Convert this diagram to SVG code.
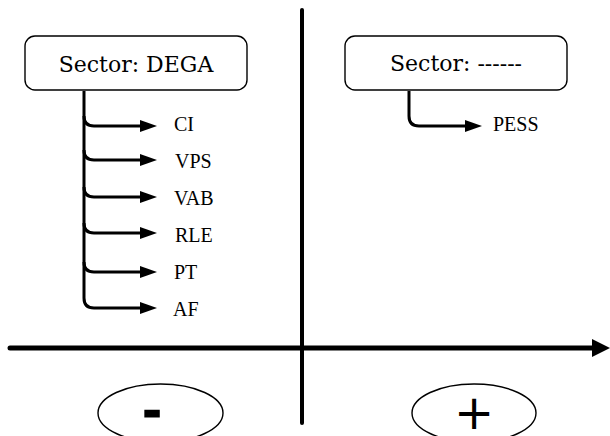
<svg xmlns="http://www.w3.org/2000/svg" width="610" height="436" viewBox="0 0 610 436">
<style>
.box{fill:#fff;stroke:#000;stroke-width:1.4}
.boxtxt{font-family:"DejaVu Serif",serif;font-size:22px;fill:#000;text-anchor:middle}
.lbl{font-family:"Liberation Serif","Times New Roman",serif;font-size:20px;fill:#000}
.con{fill:none;stroke:#000;stroke-width:3}
.axis{fill:none;stroke:#000;stroke-linecap:round}
.ell{fill:#fff;stroke:#000;stroke-width:1.4}
</style>
<defs>
<marker id="ah" markerUnits="userSpaceOnUse" markerWidth="18" markerHeight="13" refX="1" refY="6.5" orient="auto">
<path d="M0,0.5 L17,6.5 L0,12.5 z" fill="#000"/>
</marker>
</defs>
<g id="axes">
<line class="axis" x1="302" y1="10" x2="302" y2="423" stroke-width="4"/>
<line class="axis" x1="10" y1="348" x2="595" y2="348" stroke-width="5"/>
<polygon points="592,339 610,348 592,357" fill="#000"/>
</g>
<g id="connectors">
<path class="con" d="M84,91 L84,298 Q84,308 94,308 L141,308" marker-end="url(#ah)"/>
<path class="con" d="M84,116 Q84,126 94,126 L141,126" marker-end="url(#ah)"/>
<path class="con" d="M84,150 Q84,160 94,160 L141,160" marker-end="url(#ah)"/>
<path class="con" d="M84,187 Q84,197 94,197 L141,197" marker-end="url(#ah)"/>
<path class="con" d="M84,223 Q84,233 94,233 L141,233" marker-end="url(#ah)"/>
<path class="con" d="M84,262 Q84,272 94,272 L141,272" marker-end="url(#ah)"/>
<path class="con" d="M409,91 L409,116 Q409,126 419,126 L466,126" marker-end="url(#ah)"/>
</g>
<g id="node-dega">
<rect class="box" x="25" y="36" width="222" height="54" rx="10"/>
<text class="boxtxt" x="136" y="72">Sector: DEGA</text>
</g>
<g id="node-sector2">
<rect class="box" x="345" y="36" width="222" height="54" rx="10"/>
<text class="boxtxt" x="456" y="71">Sector: ------</text>
</g>
<g id="node-ci"><text class="lbl" x="174" y="131">CI</text></g>
<g id="node-vps"><text class="lbl" x="175" y="168">VPS</text></g>
<g id="node-vab"><text class="lbl" x="174" y="205">VAB</text></g>
<g id="node-rle"><text class="lbl" x="175" y="242">RLE</text></g>
<g id="node-pt"><text class="lbl" x="174" y="279">PT</text></g>
<g id="node-af"><text class="lbl" x="173" y="316">AF</text></g>
<g id="node-pess"><text class="lbl" x="493" y="131">PESS</text></g>
<g id="node-minus">
<ellipse class="ell" cx="160.5" cy="413" rx="62.5" ry="29"/>
<text x="152" y="428" font-family="Liberation Sans,sans-serif" font-weight="bold" font-size="56" stroke="#000" stroke-width="1.2" text-anchor="middle">-</text>
</g>
<g id="node-plus">
<ellipse class="ell" cx="474" cy="413" rx="62" ry="29"/>
<text x="474" y="429" font-family="DejaVu Sans,sans-serif" font-size="48" text-anchor="middle">+</text>
</g>
</svg>
